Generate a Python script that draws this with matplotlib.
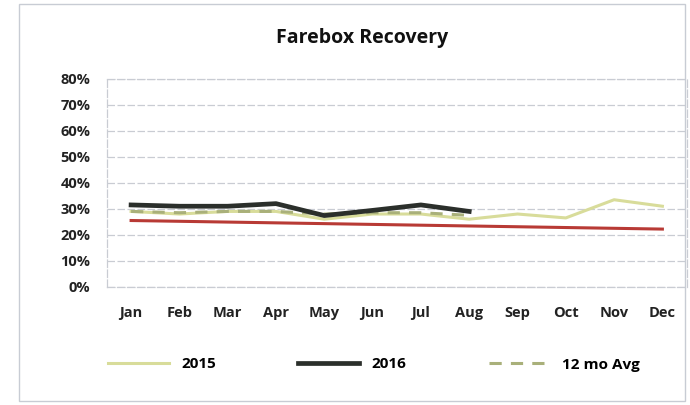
import matplotlib
matplotlib.use("Agg")
import matplotlib.pyplot as plt
from matplotlib.patches import Rectangle

months = ["Jan", "Feb", "Mar", "Apr", "May", "Jun", "Jul", "Aug", "Sep", "Oct", "Nov", "Dec"]
y2015 = [0.29, 0.28, 0.29, 0.29, 0.26, 0.28, 0.28, 0.26, 0.28, 0.265, 0.335, 0.31]
y2016 = [0.315, 0.31, 0.31, 0.32, 0.274, 0.294, 0.315, 0.29]
avg12 = [0.29, 0.285, 0.29, 0.29, 0.28, 0.285, 0.285, 0.275]
target = [0.255, 0.252, 0.249, 0.246, 0.243, 0.240, 0.237, 0.234, 0.231, 0.228, 0.225, 0.222]
yticks = [0, 0.1, 0.2, 0.3, 0.4, 0.5, 0.6, 0.7, 0.8]
ytick_labels = ["0%", "10%", "20%", "30%", "40%", "50%", "60%", "70%", "80%"]

plt.rcParams['font.family'] = ['Open Sans', 'DejaVu Sans']

fig = plt.figure(figsize=(6.9, 4.05), dpi=100)
fig.patches.append(Rectangle((0.028, 0.01), 0.965, 0.98, transform=fig.transFigure,
                             fill=False, edgecolor="#c8ccd4", linewidth=1.0))
ax = fig.add_axes([0.155, 0.292, 0.84, 0.513])

x = list(range(len(months)))
ax.plot(x, y2015, color="#d8dc9a", linewidth=2.2, label="2015", zorder=2)
ax.plot(x, target, color="#b83a35", linewidth=2.2, zorder=2)
ax.plot(x[:len(avg12)], avg12, color="#a9b07a", linewidth=2.2, linestyle=(0, (4, 3)), label="12 mo Avg", zorder=3)
ax.plot(x[:len(y2016)], y2016, color="#2b2f2b", linewidth=3.4, label="2016", zorder=4)

ax.set_ylim(0, 0.8)
ax.set_xlim(-0.5, 11.5)
ax.set_yticks(yticks)
ax.set_yticklabels(ytick_labels)
ax.set_xticks(x)
ax.set_xticklabels(months)
for lbl in ax.get_xticklabels() + ax.get_yticklabels():
    lbl.set_fontweight("bold")
    lbl.set_fontsize(10.5)
    lbl.set_color("#222222")
ax.tick_params(axis="x", length=0, pad=14)
ax.tick_params(axis="y", length=0, pad=12)
ax.grid(axis="y", color="#c9ccd3", linestyle=(0, (6, 2)), linewidth=0.9)
for s in ax.spines.values():
    s.set_color("#c9ccd3")
    s.set_linewidth(0.9)
    s.set_linestyle((0, (6, 2)))

fig.text(0.525, 0.905, "Farebox Recovery", ha="center", va="center", fontsize=14, fontweight="bold", color="#111111")

h = {l.get_label(): l for l in ax.get_lines()}
leg = fig.legend([h["2015"], h["2016"], h["12 mo Avg"]], ["2015", "2016", "12 mo Avg"],
                 loc="center", bbox_to_anchor=(0.542, 0.1), ncol=3, frameon=False,
                 handlelength=4.0, handletextpad=0.8, columnspacing=5.4,
                 prop={"weight": "bold", "size": 11})
fig.savefig("out.png", dpi=100)
